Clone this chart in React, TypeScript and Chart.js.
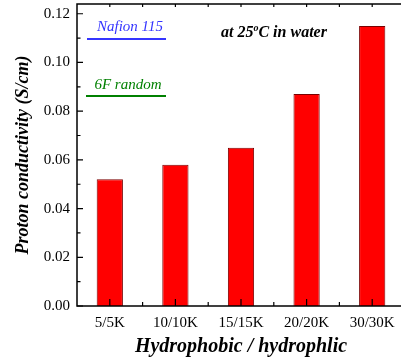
import { useEffect, useRef } from "react";
import { Chart, registerables } from "chart.js";

Chart.register(...registerables);

const categories = ["5/5K", "10/10K", "15/15K", "20/20K", "30/30K"];
const conductivity = [0.052, 0.058, 0.065, 0.087, 0.115];
const yMajorTicks = [0, 0.02, 0.04, 0.06, 0.08, 0.1, 0.12];
const yMinorTicks = [0.01, 0.03, 0.05, 0.07, 0.09, 0.11];
const yMax = 0.124;
const legendLabels = ["Nafion 115", "6F random"];
const legendColors = ["#3535ff", "#008000"];
const conditionParts = ["at 25", "o", "C in water"];
const xTitle = "Hydrophobic / hydrophlic";
const yTitle = "Proton conductivity (S/cm)";

const SERIF = "'Liberation Serif', 'Times New Roman', serif";

const framePlugin = {
  id: "frame",
  afterDatasetsDraw(chart: any) {
    const { ctx, chartArea: a, scales } = chart;
    const x = scales.x;
    const y = scales.y;
    ctx.save();
    ctx.strokeStyle = "#000";
    ctx.lineWidth = 1.5;
    ctx.strokeRect(a.left, a.top, a.right - a.left, a.bottom - a.top);

    ctx.lineWidth = 1.2;
    ctx.beginPath();
    const n = categories.length;
    for (let i = 0; i < n; i++) {
      const px = x.getPixelForValue(i);
      ctx.moveTo(px, a.bottom);
      ctx.lineTo(px, a.bottom - 7);
      ctx.moveTo(px, a.top);
      ctx.lineTo(px, a.top + 3);
    }
    for (let i = 0; i < n - 1; i++) {
      const px = (x.getPixelForValue(i) + x.getPixelForValue(i + 1)) / 2;
      ctx.moveTo(px, a.bottom);
      ctx.lineTo(px, a.bottom - 4);
      ctx.moveTo(px, a.top);
      ctx.lineTo(px, a.top + 3);
    }
    for (const v of yMajorTicks) {
      const py = y.getPixelForValue(v);
      ctx.moveTo(a.left, py);
      ctx.lineTo(a.left + 6, py);
    }
    for (const v of yMinorTicks) {
      const py = y.getPixelForValue(v);
      ctx.moveTo(a.left, py);
      ctx.lineTo(a.left + 3.5, py);
    }
    ctx.stroke();

    // legend-like annotations
    const legendPos = [
      { tx: 53, ty: 23, ly: 35, lx0: 10, lx1: 89 },
      { tx: 51, ty: 81, ly: 92, lx0: 9, lx1: 89 },
    ];
    legendLabels.forEach((label, i) => {
      const p = legendPos[i];
      ctx.fillStyle = legendColors[i];
      ctx.font = `italic 15px ${SERIF}`;
      ctx.textAlign = "center";
      ctx.textBaseline = "middle";
      ctx.fillText(label, a.left + p.tx, a.top + p.ty);
      ctx.strokeStyle = legendColors[i];
      ctx.lineWidth = 2;
      ctx.beginPath();
      ctx.moveTo(a.left + p.lx0, a.top + p.ly);
      ctx.lineTo(a.left + p.lx1, a.top + p.ly);
      ctx.stroke();
    });

    // condition text with superscript
    ctx.fillStyle = "#000";
    ctx.textAlign = "left";
    ctx.textBaseline = "alphabetic";
    let cx = a.left + 144;
    const base = a.top + 33;
    ctx.font = `italic bold 16px ${SERIF}`;
    ctx.fillText(conditionParts[0], cx, base);
    cx += ctx.measureText(conditionParts[0]).width;
    ctx.font = `italic bold 10px ${SERIF}`;
    ctx.fillText(conditionParts[1], cx, base - 6);
    cx += ctx.measureText(conditionParts[1]).width;
    ctx.font = `italic bold 16px ${SERIF}`;
    ctx.fillText(conditionParts[2], cx, base);

    ctx.restore();
  },
};

export default function App() {
  const ref = useRef<HTMLCanvasElement>(null);
  useEffect(() => {
    const chart = new Chart(ref.current!, {
      type: "bar",
      data: {
        labels: categories,
        datasets: [
          {
            data: conductivity,
            backgroundColor: "#ff0000",
            borderColor: "#7a0000",
            borderWidth: 1,
            barPercentage: 0.4,
            categoryPercentage: 1,
          },
        ],
      },
      options: {
        responsive: false,
        devicePixelRatio: 1,
        animation: false,
        layout: { padding: { top: 4, left: 0, right: 5, bottom: 0 } },
        plugins: { legend: { display: false }, tooltip: { enabled: false } },
        scales: {
          x: {
            offset: true,
            grid: { display: false, drawTicks: false },
            border: { display: false },
            ticks: {
              color: "#000",
              padding: 8,
              maxRotation: 0,
              font: { family: SERIF, size: 15 },
            },
            title: {
              display: true,
              text: xTitle,
              color: "#000",
              padding: { top: 0, bottom: 1 },
              font: { family: SERIF, size: 20, style: "italic", weight: "bold" },
            },
            afterFit: (s: any) => {
              s.height = 54;
              s.paddingLeft = 0;
              s.paddingRight = 0;
            },
          },
          y: {
            min: 0,
            max: yMax,
            grid: { display: false, drawTicks: false },
            border: { display: false },
            ticks: {
              stepSize: 0.02,
              includeBounds: false,
              color: "#000",
              padding: 7,
              font: { family: SERIF, size: 15 },
              callback: (v: any) => Number(v).toFixed(2),
            },
            title: {
              display: true,
              text: yTitle,
              color: "#000",
              padding: { top: 13, bottom: 0 },
              font: { family: SERIF, size: 18, style: "italic", weight: "bold" },
            },
            afterFit: (s: any) => {
              s.width = 77;
              s.paddingTop = 0;
              s.paddingBottom = 0;
            },
          },
        },
      },
      plugins: [framePlugin],
    });
    return () => chart.destroy();
  }, []);
  return (
    <div
      style={{
        position: "fixed",
        left: 0,
        top: 0,
        width: 401,
        height: 360,
        overflow: "hidden",
        background: "#fff",
      }}
    >
      <canvas ref={ref} width={410} height={360} style={{ display: "block", width: 410, height: 360 }} />
    </div>
  );
}
